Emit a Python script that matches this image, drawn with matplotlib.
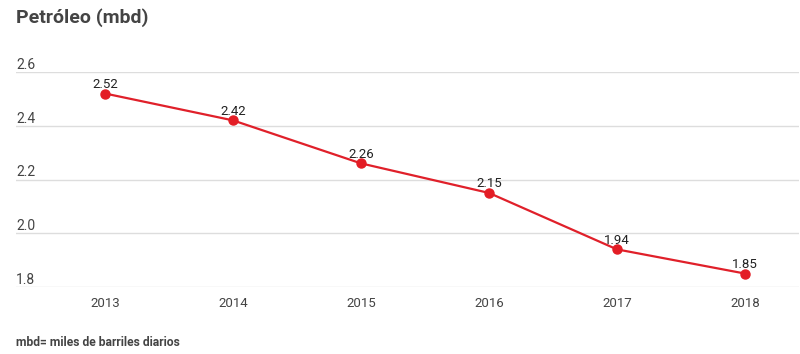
import matplotlib
matplotlib.use('Agg')
import matplotlib.pyplot as plt
import matplotlib.transforms as mtransforms

years = ['2013', '2014', '2015', '2016', '2017', '2018']
values = [2.52, 2.42, 2.26, 2.15, 1.94, 1.85]
yticks = [1.8, 2.0, 2.2, 2.4, 2.6]

plt.rcParams['font.family'] = ['Roboto', 'DejaVu Sans']

fig = plt.figure(figsize=(8, 3.54), dpi=100)
ax = fig.add_axes([16 / 800, 1 - 287 / 354, 783 / 800, 215 / 354])

x = list(range(len(years)))
ax.plot(x, values, color='#e0202a', lw=1.6, marker='o', ms=6.5,
        markerfacecolor='#e31d25', markeredgecolor='#e31d25', zorder=3)
for xi, v in zip(x, values):
    ax.annotate(f'{v:.2f}', (xi, v), xytext=(0, 2), textcoords='offset points',
                ha='center', va='bottom', fontsize=9.5, color='#222222', zorder=4)

ax.set_xlim((16 - 105) / 128, (799 - 105) / 128)
ax.set_ylim(1.8, 2.6)
ax.set_xticks(x)
ax.set_xticklabels(years, fontsize=9.5, color='#444444')
ax.tick_params(axis='x', length=0, pad=7)
ax.set_yticks(yticks)
ax.set_yticklabels([])
ax.tick_params(axis='y', length=0)
ax.grid(axis='y', color='#dddddd', lw=1)
ax.set_axisbelow(True)
for s in ax.spines.values():
    s.set_visible(False)

trans = mtransforms.blended_transform_factory(ax.transAxes, ax.transData)
for t in yticks:
    ax.text(0, t, f'{t:.1f}', transform=trans, ha='left', va='bottom',
            fontsize=10, color='#444444')

fig.text(16 / 800, 1 - 18 / 354, 'Petróleo (mbd)', fontsize=14, fontweight='bold',
         color='#444444', ha='left', va='center')
fig.text(16 / 800, 1 - 343 / 354, 'mbd= miles de barriles diarios', fontsize=8.7,
         fontweight='bold', color='#444444', ha='left', va='center')

fig.savefig('out.png', dpi=100)
